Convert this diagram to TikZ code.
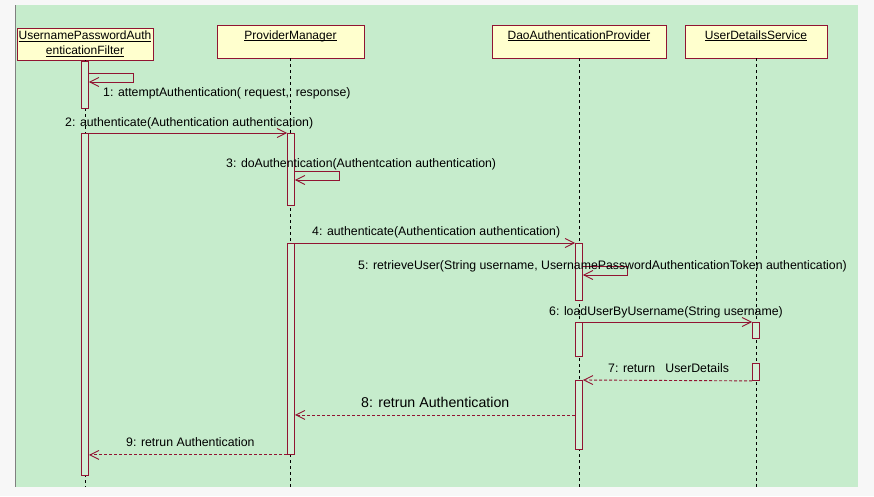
\documentclass[tikz,border=0pt]{standalone}
\usepackage{fontspec}
\setmainfont{Liberation Sans}
\usetikzlibrary{arrows.meta}
\definecolor{bggreen}{RGB}{198,236,204}
\definecolor{outside}{RGB}{247,247,247}
\definecolor{edgegrey}{RGB}{128,128,128}
\definecolor{headfill}{RGB}{255,255,206}
\definecolor{maroon}{RGB}{145,20,50}
\definecolor{barfill}{RGB}{210,240,214}
\newcommand\myul[1]{\setbox0\hbox{#1}\rlap{\rule[-1.8pt]{\wd0}{0.7pt}}\box0}
\begin{document}
\begin{tikzpicture}[x=1pt,y=-1pt,
  txt/.style={font=\fontsize{12.3}{14}\selectfont, inner sep=0pt, anchor=base west, text=black},
  bigtxt/.style={font=\fontsize{14.2}{16}\selectfont, inner sep=0pt, anchor=base west, text=black},
  head/.style={draw=maroon, fill=headfill, line width=0.9pt, rectangle, inner xsep=0pt, inner ysep=0pt,
    font=\fontsize{12}{14}\selectfont, text height=14pt, text depth=19pt},
  headtwo/.style={draw=maroon, fill=headfill, line width=0.9pt, rectangle, inner sep=0pt,
    font=\fontsize{12}{15}\selectfont, align=center, minimum height=32pt},
  actbar/.style={draw=maroon, fill=barfill, line width=0.9pt, rectangle, inner sep=0pt, minimum width=7pt, anchor=north},
  life/.style={draw=black, line width=0.8pt, dash pattern=on 3pt off 3pt},
  msg/.style={draw=maroon, line width=0.9pt, -{Straight Barb[length=9pt,width=9pt,line width=0.9pt]}},
  ret/.style={msg, dash pattern=on 3pt off 2pt}]
\useasboundingbox (0,0) rectangle (874,496);
\fill[outside] (0,0) rectangle (874,496);
\fill[bggreen] (15,5) rectangle (858,487);
\draw[edgegrey, line width=0.8pt] (15,5) -- (15,487);

% headers
\node[headtwo, minimum width=136pt] (h1) at (85,44) {\myul{UsernamePasswordAuth}\\\myul{enticationFilter}};
\node[head, minimum width=147pt] (h2) at (290.5,41.5) {\myul{ProviderManager}};
\node[head, minimum width=174pt] (h3) at (579,41.5) {\myul{DaoAuthenticationProvider}};
\node[head, minimum width=142pt] (h4) at (756,41.5) {\myul{UserDetailsService}};

% lifelines
\coordinate (e1) at (h1.south |- 0,487);
\coordinate (e2) at (h2.south |- 0,487);
\coordinate (e3) at (h3.south |- 0,487);
\coordinate (e4) at (h4.south |- 0,487);
\draw[life] (h1.south) -- (e1);
\draw[life] (h2.south) -- (e2);
\draw[life] (h3.south) -- (e3);
\draw[life] (h4.south) -- (e4);

% activation bars
\node[actbar, minimum height=47pt] (L1a) at (85,61) {};
\node[actbar, minimum height=342pt] (L1b) at (85,133) {};
\node[actbar, minimum height=72pt] (L2a) at (291,133) {};
\node[actbar, minimum height=211pt] (L2b) at (291,243) {};
\node[actbar, minimum height=57pt] (L3a) at (579,243) {};
\node[actbar, minimum height=34pt] (L3b) at (579,322) {};
\node[actbar, minimum height=69pt] (L3c) at (579,380) {};
\node[actbar, minimum height=16pt] (L4a) at (756,322) {};
\node[actbar, minimum height=17pt] (L4b) at (756,363) {};

% 1: self call
\coordinate (s1a) at (L1a.east |- 0,73);
\coordinate (s1b) at (L1a.east |- 0,82);
\draw[msg] (s1a) -- ++(44,0) -- ++(0,9) -- (s1b);
\node[txt] (t1) at (103,96) {1: attemptAuthentication( request,~ response)};

% 2
\draw[msg] (L1b.north east) -- (L2a.north west);
\node[txt] (t2) at (65,126) {2: authenticate(Authentication authentication)};

% 3: self call
\coordinate (s3a) at (L2a.east |- 0,171);
\coordinate (s3b) at (L2a.east |- 0,180);
\draw[msg] (s3a) -- ++(44,0) -- ++(0,9) -- (s3b);
\node[txt] (t3) at (226,167) {3: doAuthentication(Authentcation authentication)};

% 4
\draw[msg] (L2b.north east) -- (L3a.north west);
\node[txt] (t4) at (312,235) {4: authenticate(Authentication authentication)};

% 5: self call
\coordinate (s5a) at (L3a.east |- 0,266);
\coordinate (s5b) at (L3a.east |- 0,275);
\draw[msg] (s5a) -- ++(44,0) -- ++(0,9) -- (s5b);
\node[txt] (t5) at (358,269) {5: retrieveUser(String username, UsernamePasswordAuthenticationToken authentication)};

% 6
\draw[msg] (L3b.north east) -- (L4a.north west);
\node[txt] (t6) at (549,315) {6: loadUserByUsername(String username)};

% 7
\coordinate (r7) at (L3c.north east);
\draw[ret] (L4b.south west) -- (r7);
\node[txt] (t7) at (608,372) {7: return~~~UserDetails};

% 8
\coordinate (r8) at (L2b.east |- L3c.west);
\draw[ret] (L3c.west) -- (r8);
\node[bigtxt] (t8) at (361,407) {8: retrun Authentication};

% 9
\coordinate (r9) at (L1b.east |- L2b.south);
\draw[ret] (L2b.south west) -- (r9);
\node[txt] (t9) at (126,446) {9: retrun Authentication};
\end{tikzpicture}
\end{document}
